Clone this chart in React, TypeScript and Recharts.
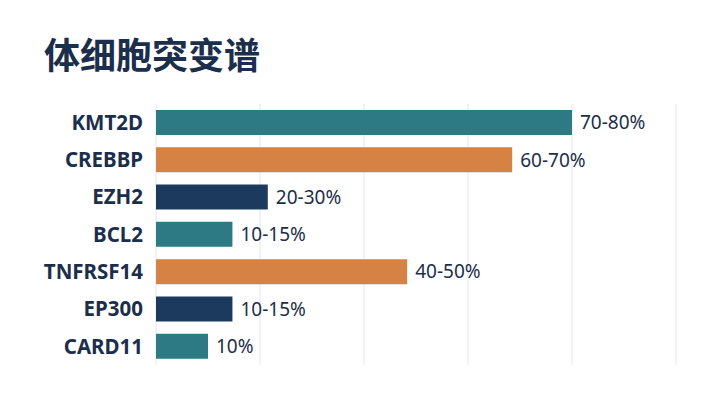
import { Bar, BarChart, CartesianGrid, Cell, LabelList, XAxis, YAxis } from "recharts";

const genes = ["KMT2D", "CREBBP", "EZH2", "BCL2", "TNFRSF14", "EP300", "CARD11"];
const frequencies = [80, 68.5, 21.5, 14.7, 48.3, 14.7, 10];
const rangeLabels = ["70-80%", "60-70%", "20-30%", "10-15%", "40-50%", "10-15%", "10%"];
const barColors = ["#2e7a84", "#d68245", "#1c3a5e", "#2e7a84", "#d68245", "#1c3a5e", "#2e7a84"];
const xTicks = [0, 20, 40, 60, 80, 100];

const TEXT = "#1b2e4b";
const FONT = '"Noto Sans", "Noto Sans CJK SC", sans-serif';

const data = genes.map((gene, i) => ({
  gene,
  value: frequencies[i],
  label: rangeLabels[i],
}));

export default function App() {
  return (
    <div
      style={{
        position: "absolute",
        left: 0,
        top: 0,
        width: 720,
        height: 405,
        background: "#ffffff",
        fontFamily: FONT,
      }}
    >
      <div
        style={{
          position: "absolute",
          left: 44,
          top: 35,
          fontSize: 36,
          lineHeight: 1,
          fontWeight: 700,
          color: TEXT,
          fontFamily: '"Noto Sans CJK SC", sans-serif',
        }}
      >
        体细胞突变谱
      </div>
      <BarChart
        width={720}
        height={405}
        data={data}
        layout="vertical"
        margin={{ top: 104, right: 44, bottom: 40, left: 0 }}
        barSize={25}
        style={{ position: "absolute", left: 0, top: 0 }}
      >
        <CartesianGrid horizontal={false} stroke="#e6e6e6" />
        <XAxis type="number" domain={[0, 100]} ticks={xTicks} hide />
        <YAxis
          type="category"
          dataKey="gene"
          width={156}
          axisLine={false}
          tickLine={false}
          tickMargin={7}
          tick={{ fill: TEXT, fontSize: 20.5, fontWeight: 700, fontFamily: FONT }}
        />
        <Bar dataKey="value" isAnimationActive={false}>
          {data.map((d, i) => (
            <Cell key={d.gene} fill={barColors[i]} />
          ))}
          <LabelList
            dataKey="label"
            position="right"
            offset={8}
            fill={TEXT}
            fontSize={19}
            fontFamily={FONT}
          />
        </Bar>
      </BarChart>
    </div>
  );
}
